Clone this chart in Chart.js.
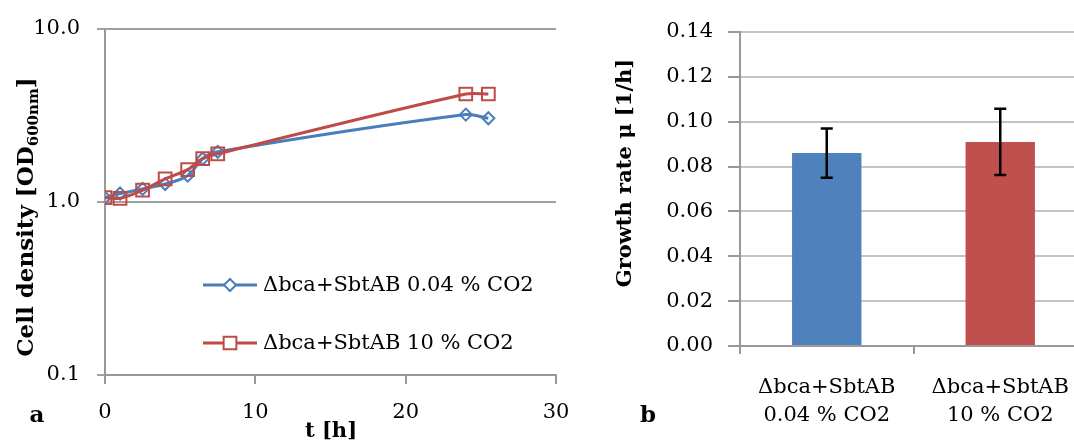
<!DOCTYPE html>
<html>
<head>
<meta charset="utf-8">
<script src="https://cdn.jsdelivr.net/npm/chart.js@4/dist/chart.umd.min.js"></script>
<style>
  html, body { margin: 0; padding: 0; background: #fff; overflow: hidden; width: 1074px; height: 445px; }
  #left  { position: absolute; left: 0;     top: 0; width: 600px; height: 445px; }
  #right { position: absolute; left: 590px; top: 0; width: 500px; height: 445px; }
</style>
</head>
<body>
<div id="left"><canvas id="growth"></canvas></div>
<div id="right"><canvas id="rate"></canvas></div>
<script>
// panel a: cell density over time (log scale)
const hours       = [0, 1, 2.5, 4, 5.5, 6.5, 7.5, 24, 25.5]
const odLowCo2    = [1.06, 1.12, 1.19, 1.27, 1.42, 1.78, 1.95, 3.2, 3.05]
const odHighCo2   = [1.06, 1.05, 1.17, 1.36, 1.54, 1.78, 1.9, 4.21, 4.21]
const seriesNames = ["Δbca+SbtAB 0.04 % CO2", "Δbca+SbtAB 10 % CO2"]
const odTicks     = [0.1, 1, 10]
const hourTicks   = [0, 10, 20, 30]

// panel b: growth rates
const rateLabels  = [["Δbca+SbtAB", "0.04 % CO2"], ["Δbca+SbtAB", "10 % CO2"]]
const rates       = [0.086, 0.091]
const rateErrors  = [0.011, 0.0148]

const BLUE = "#4A7EBB"
const RED  = "#BE4B48"
const FONT = "'DejaVu Serif', serif"
const tickFont = { family: FONT, size: 21, lineHeight: "24px" }

// text drawn around the plots: panel letters and axis titles
const decorations = (draw) => ({ id: "decorations", afterDraw: (chart) => {
  const ctx = chart.ctx
  ctx.save()
  ctx.fillStyle = "#000"
  draw(ctx, chart)
  ctx.restore()
}})

const legendInside = {
  id: "legendInside",
  afterDraw(chart) {
    const ctx = chart.ctx
    const rows = [285, 343]
    ctx.save()
    chart.data.datasets.forEach((ds, i) => {
      const y = rows[i]
      ctx.strokeStyle = ds.borderColor
      ctx.lineWidth = ds.borderWidth
      ctx.beginPath()
      ctx.moveTo(203, y)
      ctx.lineTo(257, y)
      ctx.stroke()
      ctx.lineWidth = ds.pointBorderWidth
      ctx.fillStyle = "#fff"
      Chart.helpers.drawPoint(ctx, { pointStyle: ds.pointStyle, radius: ds.pointRadius, borderWidth: ds.pointBorderWidth, rotation: 0 }, 230, y)
      ctx.fillStyle = "#000"
      ctx.font = `21px ${FONT}`
      ctx.textBaseline = "middle"
      ctx.textAlign = "left"
      ctx.fillText(ds.label, 263, y + 1)
    })
    ctx.restore()
  }
}

new Chart(document.getElementById("growth"), {
  type: "line",
  data: {
    datasets: [
      {
        label: seriesNames[0],
        data: hours.map((h, i) => ({ x: h, y: odLowCo2[i] })),
        borderColor: BLUE,
        borderWidth: 3,
        pointStyle: "rectRot",
        pointRadius: 6,
        pointBorderWidth: 2,
        pointBorderColor: BLUE,
        pointBackgroundColor: "rgba(0,0,0,0)",
        tension: 0.3,
        order: 1,
      },
      {
        label: seriesNames[1],
        data: hours.map((h, i) => ({ x: h, y: odHighCo2[i] })),
        borderColor: RED,
        borderWidth: 3,
        pointStyle: "rect",
        pointRadius: 9,
        pointBorderWidth: 2,
        pointBorderColor: RED,
        pointBackgroundColor: "rgba(0,0,0,0)",
        tension: 0.3,
        order: 0,
      },
    ],
  },
  options: {
    responsive: true,
    maintainAspectRatio: false,
    animation: false,
    layout: { padding: { top: 25, right: 44, left: 0, bottom: 0 } },
    scales: {
      x: {
        type: "linear",
        min: 0,
        max: 30,
        afterBuildTicks: (s) => { s.ticks = hourTicks.map((v) => ({ value: v })) },
        afterFit: (s) => { s.height = 70 },
        grid: { drawOnChartArea: false, color: "#999", lineWidth: 2, tickLength: 9 },
        border: { color: "#999", width: 2 },
        ticks: { color: "#000", font: tickFont, padding: 17, maxRotation: 0 },
      },
      y: {
        type: "logarithmic",
        min: 0.1,
        max: 10,
        afterBuildTicks: (s) => { s.ticks = odTicks.map((v) => ({ value: v })) },
        afterFit: (s) => { s.width = 105 },
        grid: { color: "#a0a0a0", lineWidth: 2, tickLength: 8 },
        border: { color: "#999", width: 2 },
        ticks: { color: "#000", font: tickFont, padding: 17, callback: (v) => Number(v).toFixed(1) },
      },
    },
    plugins: { legend: { display: false }, tooltip: { enabled: false } },
  },
  plugins: [
    legendInside,
    decorations((ctx) => {
      ctx.font = `bold 23px ${FONT}`
      ctx.textAlign = "center"
      ctx.textBaseline = "middle"
      ctx.fillText("a", 37, 416)
      ctx.font = `bold 21px ${FONT}`
      ctx.fillText("t [h]", 331, 432)

      // rotated title with subscript
      const main = "Cell density [OD", sub = "600nm", tail = "]"
      ctx.translate(27, 217)
      ctx.rotate(-Math.PI / 2)
      ctx.textAlign = "left"
      ctx.font = `bold 23px ${FONT}`
      const w1 = ctx.measureText(main).width
      const w3 = ctx.measureText(tail).width
      ctx.font = `bold 15px ${FONT}`
      const w2 = ctx.measureText(sub).width
      let x = -(w1 + w2 + w3) / 2
      ctx.font = `bold 23px ${FONT}`
      ctx.fillText(main, x, 0)
      x += w1
      ctx.font = `bold 15px ${FONT}`
      ctx.fillText(sub, x, 7)
      x += w2
      ctx.font = `bold 23px ${FONT}`
      ctx.fillText(tail, x, 0)
    }),
  ],
})

const errorBars = {
  id: "errorBars",
  afterDatasetsDraw(chart) {
    const ctx = chart.ctx
    const y = chart.scales.y
    const meta = chart.getDatasetMeta(0)
    ctx.save()
    ctx.strokeStyle = "#000"
    ctx.lineWidth = 2.5
    meta.data.forEach((bar, i) => {
      const top = y.getPixelForValue(rates[i] + rateErrors[i])
      const bot = y.getPixelForValue(rates[i] - rateErrors[i])
      ctx.beginPath()
      ctx.moveTo(bar.x, top); ctx.lineTo(bar.x, bot)
      ctx.moveTo(bar.x - 6, top); ctx.lineTo(bar.x + 6, top)
      ctx.moveTo(bar.x - 6, bot); ctx.lineTo(bar.x + 6, bot)
      ctx.stroke()
    })
    ctx.restore()
  }
}

new Chart(document.getElementById("rate"), {
  type: "bar",
  data: {
    labels: rateLabels,
    datasets: [{
      data: rates,
      backgroundColor: ["#4F81BD", "#C0504D"],
      barPercentage: 0.4,
      categoryPercentage: 1,
    }],
  },
  options: {
    responsive: true,
    maintainAspectRatio: false,
    animation: false,
    layout: { padding: { top: 32, right: 3, left: 0, bottom: 0 } },
    scales: {
      x: {
        afterFit: (s) => { s.height = 99 },
        grid: { offset: true, drawOnChartArea: false, color: "#999", lineWidth: 2, tickLength: 8 },
        border: { color: "#999", width: 2 },
        ticks: { color: "#000", font: { family: FONT, size: 21, lineHeight: "28px" }, padding: 20, maxRotation: 0 },
      },
      y: {
        min: 0,
        max: 0.14,
        afterFit: (s) => { s.width = 150 },
        grid: { color: "#c4c4c4", lineWidth: 2, tickLength: 12, tickColor: "#999" },
        border: { color: "#999", width: 2 },
        ticks: { stepSize: 0.02, color: "#000", font: tickFont, padding: 15, callback: (v) => Number(v).toFixed(2) },
      },
    },
    plugins: { legend: { display: false }, tooltip: { enabled: false } },
  },
  plugins: [
    errorBars,
    decorations((ctx) => {
      ctx.textAlign = "center"
      ctx.textBaseline = "middle"
      ctx.font = `bold 23px ${FONT}`
      ctx.fillText("b", 58, 416)
      ctx.translate(36, 173)
      ctx.rotate(-Math.PI / 2)
      ctx.font = `bold 21px ${FONT}`
      ctx.fillText("Growth rate μ [1/h]", 0, 0)
    }),
  ],
})
</script>
</body>
</html>
